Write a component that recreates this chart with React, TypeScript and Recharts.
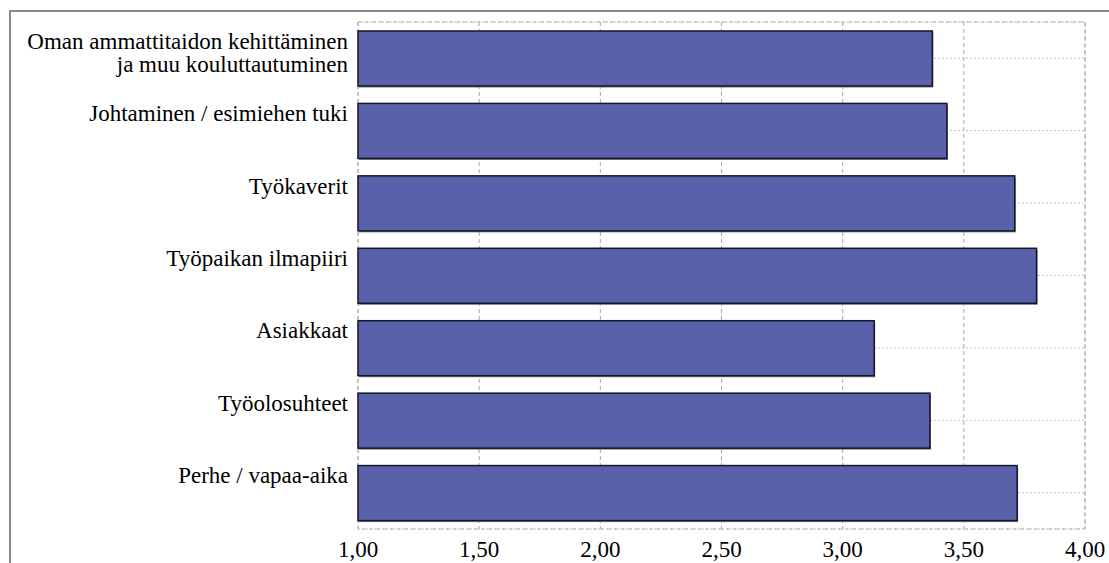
import React from 'react';
import {
  BarChart, Bar, XAxis, YAxis, CartesianGrid, ReferenceArea,
} from 'recharts';

const categories = [
  'Oman ammattitaidon kehittäminen|ja muu kouluttautuminen',
  'Johtaminen / esimiehen tuki',
  'Työkaverit',
  'Työpaikan ilmapiiri',
  'Asiakkaat',
  'Työolosuhteet',
  'Perhe / vapaa-aika',
];
const values = [3.37, 3.43, 3.71, 3.8, 3.13, 3.36, 3.72];
const xTicks = [1, 1.5, 2, 2.5, 3, 3.5, 4];

const data = categories.map((name, i) => ({ name, value: values[i] }));

const FONT = "'Liberation Serif', 'Times New Roman', serif";
const TEXT_STYLE = { fontFamily: FONT, fontSize: 23, fill: '#000' };
const BAR_FILL = '#5961aa';
const BAR_SIZE = 55;

const fmt = (v: number) => v.toFixed(2).replace('.', ',');

const CategoryTick = (props: any) => {
  const { x, y, payload } = props;
  const lines = String(payload.value).split('|');
  // labels sit at the top edge of their bar
  const top = y - BAR_SIZE / 2 + 18;
  return (
    <text x={x - 2} y={top} textAnchor="end" style={TEXT_STYLE}>
      {lines.map((l, i) => (
        <tspan key={i} x={x - 2} dy={i === 0 ? 0 : 23}>{l}</tspan>
      ))}
    </text>
  );
};

const ValueTick = (props: any) => {
  const { x, y, payload } = props;
  return (
    <text x={x} y={y + 20} textAnchor="middle" style={TEXT_STYLE}>
      {fmt(payload.value)}
    </text>
  );
};

const ShadowBar = (props: any) => {
  const { x, y, width, height } = props;
  if (!width || !height) return null;
  return (
    <g>
      <rect x={x + 1} y={y + 1.5} width={width} height={height} fill="#777" />
      <rect x={x} y={y} width={width} height={height} fill={BAR_FILL} stroke="#16162a" strokeWidth={1.5} />
    </g>
  );
};

export default function App() {
  return (
    <div style={{ position: 'absolute', left: 0, top: 0, width: 1109, height: 563, background: '#fff' }}>
      <div
        style={{
          position: 'absolute', left: 9, top: 10, width: 1100, height: 553,
          borderTop: '2px solid #8a8a8a', borderLeft: '2px solid #8a8a8a', boxSizing: 'border-box',
        }}
      />
      <BarChart
        width={1109}
        height={563}
        data={data}
        layout="vertical"
        barSize={BAR_SIZE}
        margin={{ top: 22, right: 24, left: 0, bottom: 0 }}
        style={{ position: 'absolute', left: 0, top: 0 }}
      >
        <CartesianGrid horizontal={false} stroke="#a8a8a8" strokeDasharray="4 3" />
        <CartesianGrid vertical={false} stroke="#c4c4bc" strokeDasharray="2 2" />
        <ReferenceArea x1={1} x2={4} fill="none" stroke="#b4b4b4" strokeDasharray="4 3" ifOverflow="visible" />
        <XAxis
          type="number"
          domain={[1, 4]}
          ticks={xTicks}
          axisLine={false}
          tickLine={false}
          tick={<ValueTick />}
          height={34}
          interval={0}
        />
        <YAxis
          type="category"
          dataKey="name"
          width={358}
          axisLine={false}
          tickLine={false}
          tick={<CategoryTick />}
          interval={0}
        />
        <Bar dataKey="value" shape={<ShadowBar />} isAnimationActive={false} />
      </BarChart>
    </div>
  );
}
